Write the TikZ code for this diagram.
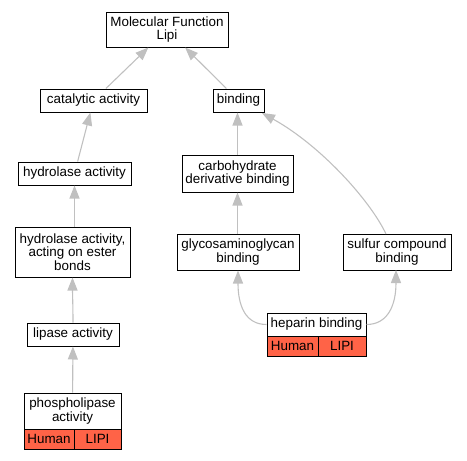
\documentclass[tikz,border=0pt]{standalone}
\usepackage{fontspec}
\setmainfont{Liberation Sans}
\usetikzlibrary{arrows.meta}
\definecolor{edgegray}{RGB}{192,192,192}
\definecolor{hitred}{RGB}{255,99,71}
\begin{document}
\begin{tikzpicture}[x=1pt, y=-1pt, >={Triangle[length=13pt,width=10pt]},
  term/.style={draw, line width=1pt, fill=white, inner sep=1pt, align=center,
    font=\fontsize{13.4}{13.3}\selectfont},
  hit/.style={term, fill=hitred, minimum height=20},
  isa/.style={draw=edgegray, line width=1.1pt, ->}]
  \useasboundingbox (0,0) rectangle (467,461);

  % Nodes
  \node[term, minimum width=122, minimum height=35] (mf) at (167,29.5) {Molecular Function\\Lipi};
  \node[term, minimum width=107, minimum height=23] (cat) at (93.5,100.5) {catalytic activity};
  \node[term, minimum width=51, minimum height=23] (bind) at (238.5,100.5) {binding};
  \node[term, minimum width=113, minimum height=23] (hyd) at (74.5,173.5) {hydrolase activity};
  \node[term, minimum width=111, minimum height=37] (carb) at (237.5,173.5) {carbohydrate\\derivative binding};
  \node[term, minimum width=115, minimum height=50] (ester) at (72.5,252) {hydrolase activity,\\acting on ester\\bonds};
  \node[term, minimum width=122, minimum height=36] (gag) at (238,252) {glycosaminoglycan\\binding};
  \node[term, minimum width=108, minimum height=36] (sulf) at (397,252) {sulfur compound\\binding};
  \node[term, minimum width=92, minimum height=23] (lip) at (73,334.5) {lipase activity};

  % Annotated terms
  \node[term, minimum width=99, minimum height=23] (hep) at (316.5,324.5) {heparin binding};
  \node[hit, minimum width=51] (hephum) at (292.5,346) {Human};
  \node[hit, minimum width=48] (heplipi) at (342,346) {LIPI};
  \node[term, minimum width=97, minimum height=36] (phos) at (72.5,411) {phospholipase\\activity};
  \node[hit, minimum width=50] (phoshum) at (49,439) {Human};
  \node[hit, minimum width=47] (phoslipi) at (97.5,439) {LIPI};

  % Edges to parents
  \draw[isa] (cat) to (mf);
  \draw[isa] (bind) to (mf);
  \draw[isa] (hyd) to (cat);
  \draw[isa] (ester.north -| hyd) to (hyd);
  \draw[isa] (lip.north) .. controls +(0,-15) and +(0,15) .. (ester.south);
  \draw[isa] (phos) to (lip);
  \draw[isa] (carb) to (bind.south -| carb);
  \draw[isa] (gag.north -| carb) to (carb);
  \draw[isa] (386,234) .. controls (370,200) and (320,145) .. (262,113);
  \draw[isa] (hep.west) .. controls (245,324.5) and (238,305) .. (gag.south);
  \draw[isa] (hep.east) .. controls (388,324.5) and (396,305) .. (396,270);

\end{tikzpicture}
\end{document}
